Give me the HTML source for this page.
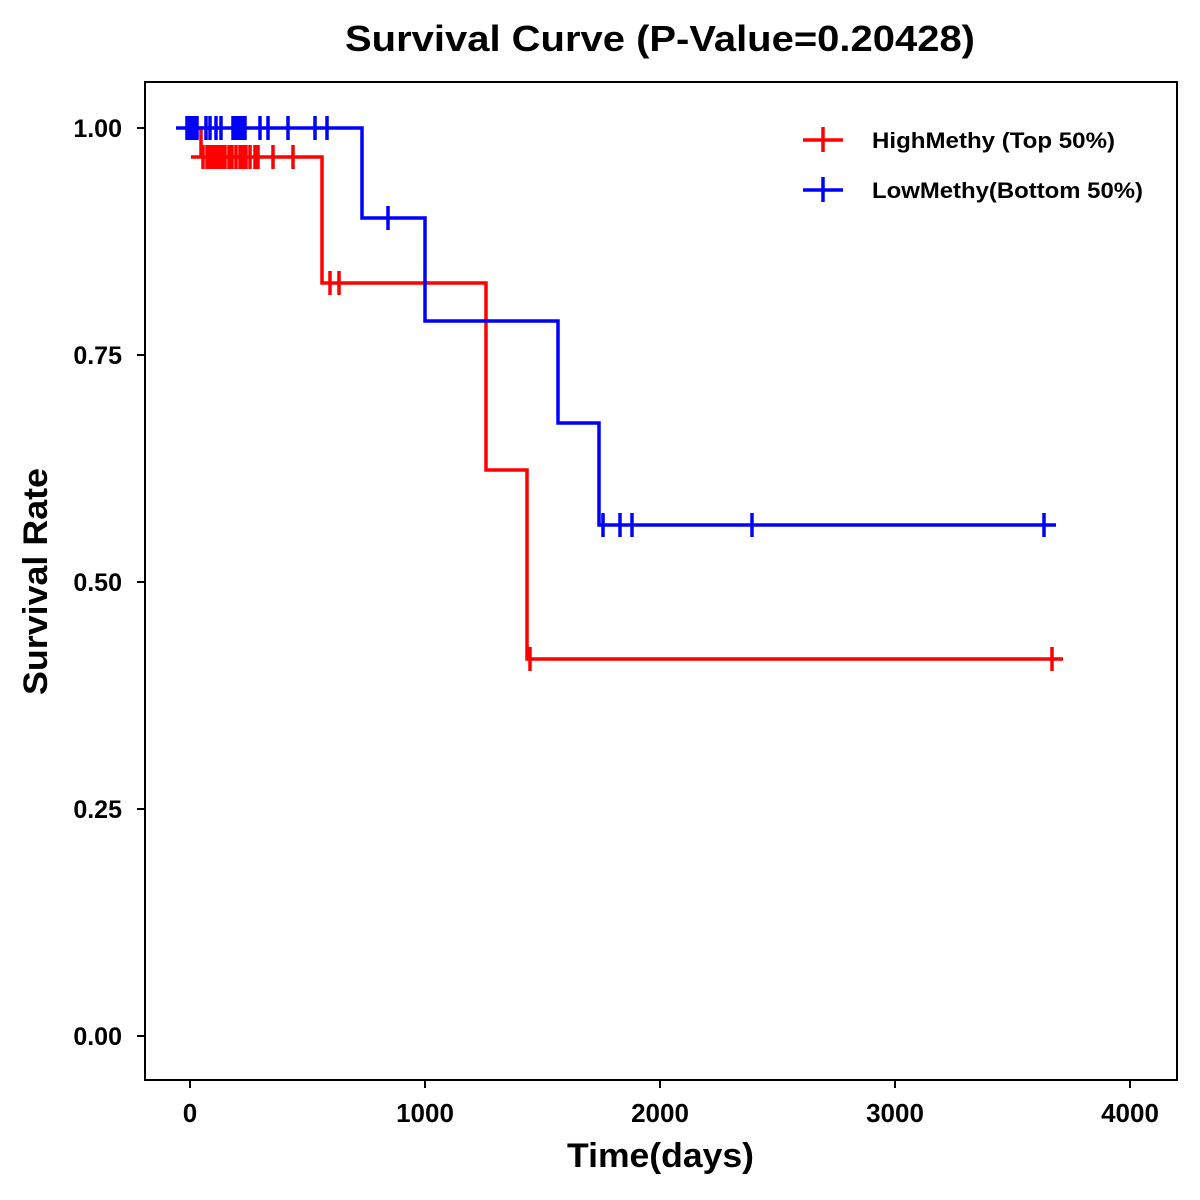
<!DOCTYPE html>
<html><head><meta charset="utf-8"><style>body{margin:0;background:#fff}svg{display:block}text{font-family:"Liberation Sans",Arial,sans-serif;font-weight:bold}</style></head><body>
<svg width="1200" height="1200" xmlns="http://www.w3.org/2000/svg">
<rect width="1200" height="1200" fill="#fff"/>
<text x="345" y="51" font-size="36" textLength="630" lengthAdjust="spacingAndGlyphs">Survival Curve (P-Value=0.20428)</text>
<rect x="145" y="82" width="1032" height="998" fill="none" stroke="#000" stroke-width="2"/>
<g stroke="#000" stroke-width="2">
<line x1="137" y1="128" x2="145" y2="128"/><line x1="137" y1="355" x2="145" y2="355"/><line x1="137" y1="582" x2="145" y2="582"/><line x1="137" y1="809" x2="145" y2="809"/><line x1="137" y1="1036" x2="145" y2="1036"/>
<line x1="190" y1="1080" x2="190" y2="1088"/><line x1="425" y1="1080" x2="425" y2="1088"/><line x1="660" y1="1080" x2="660" y2="1088"/><line x1="895" y1="1080" x2="895" y2="1088"/><line x1="1130" y1="1080" x2="1130" y2="1088"/>
</g>
<g font-size="25" text-anchor="end">
<text x="122" y="137">1.00</text><text x="122" y="364">0.75</text><text x="122" y="591">0.50</text><text x="122" y="818">0.25</text><text x="122" y="1045">0.00</text>
</g>
<g font-size="26" text-anchor="middle">
<text x="190" y="1122">0</text><text x="425" y="1122">1000</text><text x="660" y="1122">2000</text><text x="895" y="1122">3000</text><text x="1130" y="1122">4000</text>
</g>
<text x="567" y="1167" font-size="34" textLength="187" lengthAdjust="spacingAndGlyphs">Time(days)</text>
<text transform="translate(47,695) rotate(-90)" font-size="34" textLength="227" lengthAdjust="spacingAndGlyphs">Survival Rate</text>
<g fill="none" stroke="#f00" stroke-width="3.5">
<polyline points="190,128 201,128 201,157 191,157 322,157 322,283 486,283 486,470 527,470 527,659 1063,659"/>
<path d="M203,145v24M207,145v24M210,145v24M213,145v24M216,145v24M219,145v24M222,145v24M225,145v24M229,145v24M232,145v24M236,145v24M240,145v24M243,145v24M246,145v24M250,145v24M255,145v24M258,145v24M273,145v24M293,145v24M330,271v24M339,271v24M530,647v24M1052,647v24"/>
</g>
<g fill="none" stroke="#00f" stroke-width="3.5">
<polyline points="176,128 362,128 362,218 425,218 425,321 558,321 558,423 599,423 599,525 1056,525"/>
<path d="M187,116v24M189,116v24M191,116v24M193,116v24M195,116v24M197,116v24M206,116v24M210,116v24M216,116v24M221,116v24M233,116v24M236,116v24M239,116v24M242,116v24M245,116v24M260,116v24M268,116v24M288,116v24M315,116v24M327,116v24M388,206v24M603,513v24M620,513v24M632,513v24M752,513v24M1044,513v24"/>
</g>
<g stroke-width="3.5">
<path d="M803,140h40M823,127v25" stroke="#f00"/>
<path d="M803,190h40M823,177v25" stroke="#00f"/>
</g>
<text x="872" y="148" font-size="22" textLength="243" lengthAdjust="spacingAndGlyphs">HighMethy (Top 50%)</text>
<text x="872" y="198" font-size="22" textLength="271" lengthAdjust="spacingAndGlyphs">LowMethy(Bottom 50%)</text>
</svg>
</body></html>
